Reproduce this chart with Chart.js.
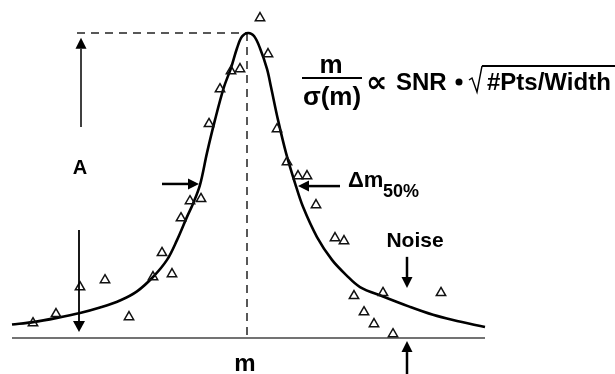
<!DOCTYPE html>
<html>
<head>
<meta charset="utf-8">
<script src="https://cdn.jsdelivr.net/npm/chart.js@4.4.1/dist/chart.umd.min.js"></script>
<style>
  body { margin: 0; background: #fff; }
  #wrap { width: 615px; height: 374px; }
</style>
</head>
<body>
<div id="wrap"><canvas id="myChart" width="615" height="374"></canvas></div>
<script>
// fitted peak profile (x = mass offset from m, y = fraction of peak height A)
const curveX = [-2.35, -2.14, -1.90, -1.67, -1.47, -1.27, -1.10, -0.94, -0.80, -0.70, -0.60, -0.54, -0.47, -0.40, -0.32, -0.23, -0.16, -0.10, -0.05, 0.01,
                0.07, 0.13, 0.20, 0.24, 0.31, 0.39, 0.48, 0.56, 0.70, 0.85, 0.99, 1.13, 1.36, 1.63, 1.86, 2.06, 2.38];
const curveY = [0.044, 0.052, 0.066, 0.082, 0.100, 0.123, 0.153, 0.200, 0.256, 0.321, 0.397, 0.440, 0.502, 0.607, 0.715, 0.823, 0.885, 0.950, 0.988, 1.0,
                0.990, 0.950, 0.882, 0.823, 0.715, 0.607, 0.508, 0.430, 0.331, 0.256, 0.207, 0.167, 0.136, 0.102, 0.076, 0.059, 0.036];

// measured points (triangles)
const pointX = [0.13, 0.21, -0.16, -0.07, -0.27, -0.38, 0.30, 0.40, 0.51, 0.60, 0.69, 0.88, 0.97, -0.57, -0.46,
                -0.66, -0.85, -0.94, -0.75, -1.42, -1.67, -1.91, -2.14, -1.18, 1.07, 1.36, 1.94, 1.17, 1.27, 1.46];
const pointY = [1.049, 0.931, 0.875, 0.882, 0.816, 0.702, 0.685, 0.577, 0.531, 0.531, 0.436, 0.328, 0.318, 0.449, 0.456,
                0.393, 0.279, 0.200, 0.210, 0.190, 0.167, 0.079, 0.049, 0.069, 0.138, 0.148, 0.148, 0.085, 0.046, 0.013];

// baseline and peak reference
const baselineX = [-2.35, 2.38];
const peakX = 0;
const peakY = 1;
const centerLabel = "m";

function zip(xs, ys) {
  return xs.map((x, i) => ({ x: x, y: ys[i] }));
}

const FONT = "'Liberation Sans', Arial, Helvetica, sans-serif";

function arrow(ctx, x1, y1, x2, y2, lw, head, half) {
  const ang = Math.atan2(y2 - y1, x2 - x1);
  const bx = x2 - Math.cos(ang) * head;
  const by = y2 - Math.sin(ang) * head;
  ctx.lineWidth = lw;
  ctx.beginPath();
  ctx.moveTo(x1, y1);
  ctx.lineTo(bx, by);
  ctx.stroke();
  ctx.beginPath();
  ctx.moveTo(x2, y2);
  ctx.lineTo(bx + Math.sin(ang) * half, by - Math.cos(ang) * half);
  ctx.lineTo(bx - Math.sin(ang) * half, by + Math.cos(ang) * half);
  ctx.closePath();
  ctx.fill();
}

const notes = {
  id: "notes",
  afterDatasetsDraw(chart) {
    const ctx = chart.ctx;
    const sx = chart.scales.x, sy = chart.scales.y;
    const X = (v) => sx.getPixelForValue(v);
    const Y = (v) => sy.getPixelForValue(v);
    ctx.save();
    ctx.strokeStyle = "#000";
    ctx.fillStyle = "#000";

    // amplitude A
    arrow(ctx, X(-1.66), Y(0.692), X(-1.66), Y(0.984), 1.5, 11, 5.5);
    arrow(ctx, X(-1.68), Y(0.354), X(-1.68), Y(0.020), 1.8, 11, 6);
    ctx.font = "bold 20px " + FONT;
    ctx.textAlign = "center";
    ctx.textBaseline = "middle";
    ctx.fillText("A", X(-1.67), Y(0.557));

    // width at half height
    arrow(ctx, X(-0.85), Y(0.505), X(-0.48), Y(0.505), 2.5, 11, 5.5);
    arrow(ctx, X(0.93), Y(0.498), X(0.51), Y(0.498), 2.5, 11, 5.5);
    ctx.textAlign = "left";
    ctx.textBaseline = "alphabetic";
    ctx.font = "bold 22px " + FONT;
    ctx.fillText("\u0394m", X(1.01), Y(0.498) + 1);
    ctx.font = "bold 18px " + FONT;
    ctx.fillText("50%", X(1.36), Y(0.466) + 1);

    // noise
    ctx.font = "bold 21px " + FONT;
    ctx.textAlign = "center";
    ctx.fillText("Noise", X(1.68), Y(0.298));
    arrow(ctx, X(1.60), Y(0.266), X(1.60), Y(0.164), 2.5, 11, 5.5);
    arrow(ctx, X(1.60), Y(-0.118), X(1.60), Y(-0.010), 2.5, 11, 5.5);

    // centre label under the baseline
    ctx.font = "bold 24px " + FONT;
    ctx.fillText(centerLabel, X(peakX) - 2, Y(-0.108));

    // formula
    ctx.font = "bold 26px " + FONT;
    ctx.fillText("m", 331, 73);
    ctx.fillText("\u03c3(m)", 332, 105);
    ctx.lineWidth = 2;
    ctx.beginPath();
    ctx.moveTo(302, 78);
    ctx.lineTo(362, 78);
    ctx.stroke();
    ctx.textAlign = "left";
    ctx.font = "bold 30px 'DejaVu Sans', sans-serif";
    ctx.fillText("\u221d", 366, 92);
    ctx.font = "bold 24px " + FONT;
    ctx.fillText("SNR", 396, 90);
    ctx.beginPath();
    ctx.arc(459, 82, 3.5, 0, Math.PI * 2);
    ctx.fill();
    ctx.lineWidth = 1.4;
    ctx.beginPath();
    ctx.moveTo(469, 80);
    ctx.lineTo(472, 78);
    ctx.lineTo(477, 92);
    ctx.lineTo(482, 66);
    ctx.stroke();
    ctx.lineWidth = 2;
    ctx.beginPath();
    ctx.moveTo(482, 66);
    ctx.lineTo(615, 66);
    ctx.stroke();
    ctx.fillText("#Pts/Width", 487, 90);
    ctx.restore();
  }
};

const data = {
  datasets: [
    {
      type: "line",
      label: "fit",
      data: zip(curveX, curveY),
      borderColor: "#000",
      borderWidth: 2.6,
      pointRadius: 0,
      tension: 0.35,
      order: 2
    },
    {
      type: "scatter",
      label: "points",
      data: zip(pointX, pointY),
      pointStyle: "triangle",
      pointRadius: 5.4,
      borderColor: "#111",
      borderWidth: 1.5,
      backgroundColor: "rgba(255,255,255,0)",
      order: 1
    },
    {
      type: "line",
      label: "baseline",
      data: baselineX.map((x) => ({ x: x, y: 0 })),
      borderColor: "#444",
      borderWidth: 1.5,
      pointRadius: 0,
      order: 3
    },
    {
      type: "line",
      label: "peak height",
      data: [{ x: -1.70, y: peakY }, { x: peakX + 0.01, y: peakY }],
      borderColor: "#222",
      borderWidth: 1.5,
      borderDash: [8, 6],
      pointRadius: 0,
      order: 3
    },
    {
      type: "line",
      label: "peak centre",
      data: [{ x: peakX, y: peakY }, { x: peakX, y: 0 }],
      borderColor: "#222",
      borderWidth: 1.5,
      borderDash: [8, 6],
      pointRadius: 0,
      order: 3
    }
  ]
};

const config = {
  type: "scatter",
  data,
  options: {
    responsive: false,
    animation: false,
    layout: { padding: 0, autoPadding: false },
    plugins: {
      legend: { display: false },
      tooltip: { enabled: false }
    },
    scales: {
      x: { type: "linear", display: false, min: -2.47, max: 3.68 },
      y: { type: "linear", display: false, min: -0.118, max: 1.108 }
    }
  },
  plugins: [notes]
};

var myChart = new Chart(document.getElementById("myChart"), config);
</script>
</body>
</html>
